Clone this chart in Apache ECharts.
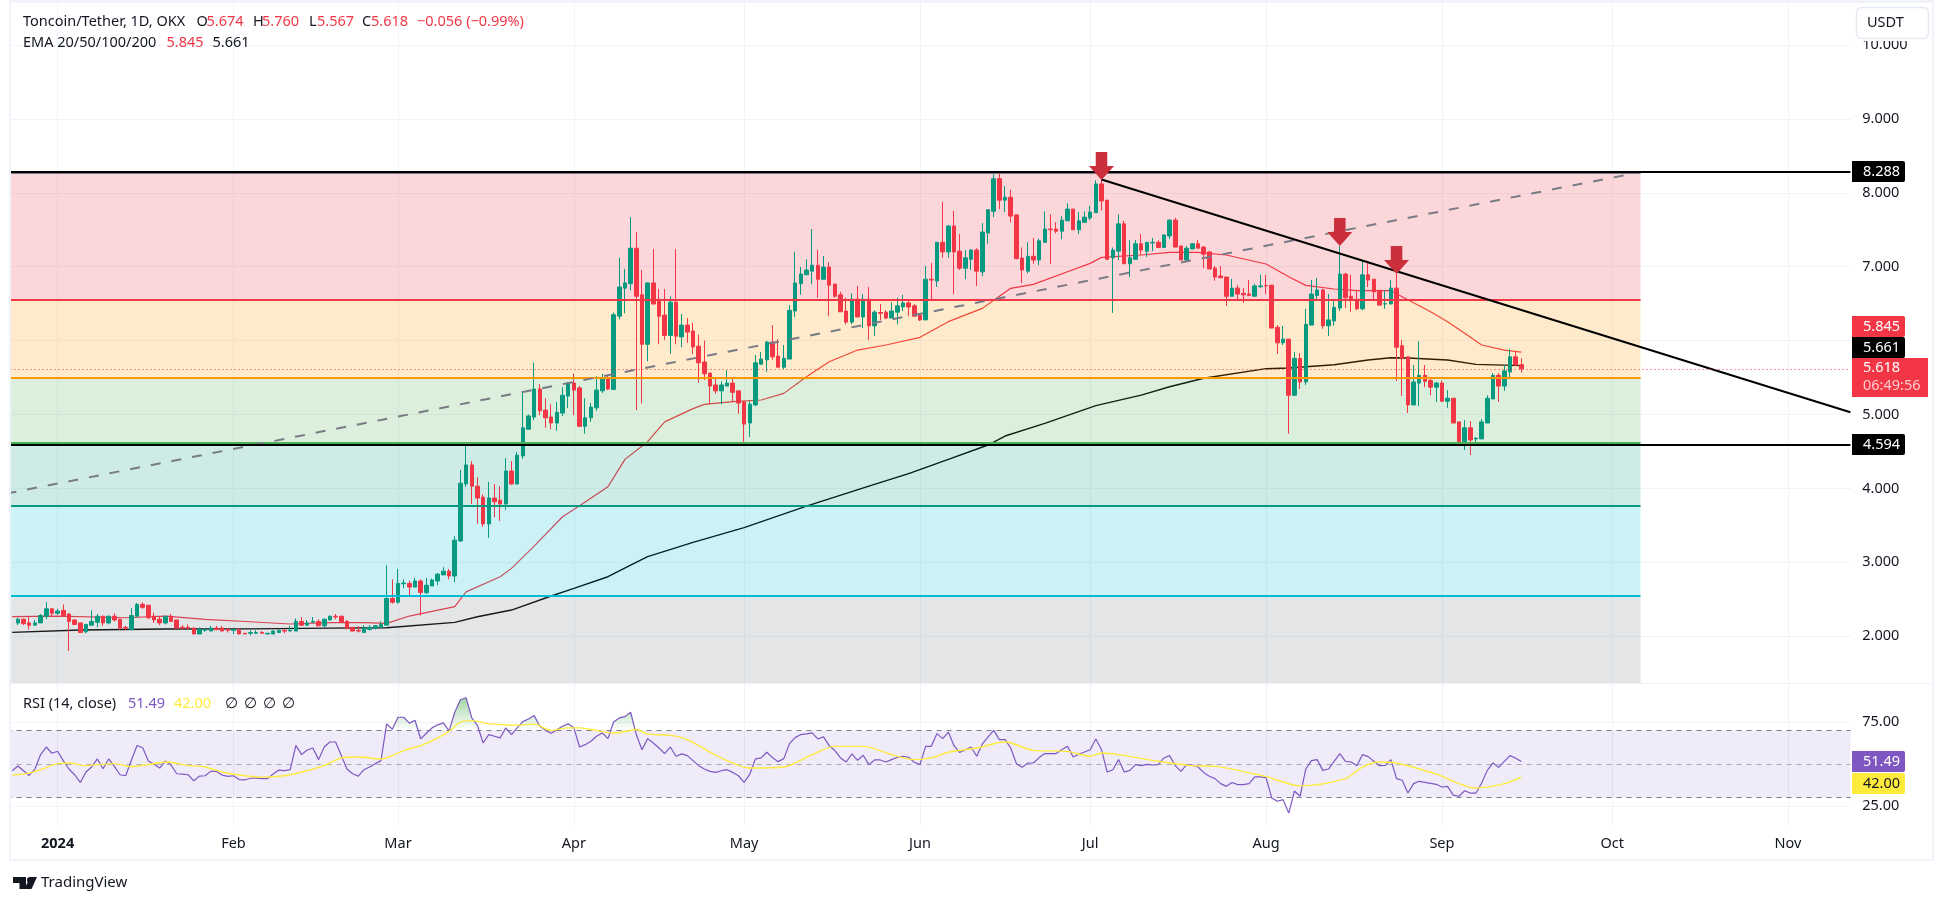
<!DOCTYPE html>
<html>
<head>
<meta charset="utf-8">
<title>Toncoin/Tether</title>
<style>
  html, body { margin: 0; padding: 0; background: #fff; }
  #chart { width: 1946px; height: 901px; }
</style>
<script src="https://cdn.jsdelivr.net/npm/echarts@6/dist/echarts.min.js"></script>
</head>
<body>
<div id="chart"></div>
<script>
// [open, close, low, high], one row per day, first row is 25 Dec 2023
const candles = [
  [2.18,2.23,2.15,2.25],[2.23,2.17,2.15,2.24],[2.18,2.15,2.09,2.26],[2.15,2.18,2.15,2.22],[2.18,2.28,2.18,2.30],
  [2.27,2.37,2.23,2.46],[2.37,2.31,2.27,2.38],[2.31,2.34,2.29,2.37],[2.35,2.28,2.28,2.43],[2.30,2.20,1.80,2.31],
  [2.22,2.16,2.16,2.23],[2.18,2.05,2.05,2.18],[2.06,2.16,2.04,2.16],[2.15,2.20,2.15,2.35],[2.19,2.27,2.12,2.30],
  [2.27,2.18,2.14,2.28],[2.18,2.27,2.16,2.28],[2.27,2.22,2.20,2.31],[2.23,2.11,2.09,2.23],[2.12,2.11,2.08,2.14],
  [2.09,2.28,2.08,2.38],[2.27,2.43,2.27,2.45],[2.43,2.39,2.37,2.46],[2.42,2.25,2.23,2.42],[2.27,2.22,2.18,2.32],
  [2.23,2.18,2.15,2.27],[2.18,2.27,2.16,2.27],[2.27,2.20,2.20,2.30],[2.22,2.11,2.11,2.22],[2.12,2.11,2.09,2.15],
  [2.12,2.11,2.09,2.16],[2.11,2.03,2.03,2.12],[2.03,2.09,2.03,2.12],[2.08,2.09,2.06,2.11],[2.07,2.11,2.07,2.14],
  [2.11,2.09,2.08,2.14],[2.11,2.07,2.07,2.14],[2.09,2.08,2.05,2.11],[2.08,2.09,2.03,2.09],[2.08,2.03,2.03,2.11],
  [2.04,2.03,2.03,2.04],[2.04,2.05,2.01,2.08],[2.04,2.05,2.03,2.08],[2.05,2.04,2.04,2.07],[2.03,2.04,2.03,2.04],
  [2.03,2.07,2.03,2.08],[2.05,2.08,2.05,2.09],[2.08,2.07,2.04,2.09],[2.07,2.08,2.07,2.14],[2.07,2.20,2.07,2.24],
  [2.20,2.15,2.14,2.26],[2.15,2.18,2.14,2.22],[2.19,2.20,2.18,2.26],[2.20,2.14,2.14,2.23],[2.14,2.23,2.12,2.24],
  [2.22,2.27,2.22,2.28],[2.27,2.26,2.23,2.30],[2.27,2.19,2.19,2.28],[2.20,2.11,2.09,2.22],[2.12,2.07,2.07,2.12],
  [2.08,2.07,2.05,2.14],[2.05,2.11,2.05,2.15],[2.09,2.12,2.08,2.15],[2.11,2.14,2.09,2.15],[2.12,2.16,2.12,2.20],
  [2.15,2.51,2.15,2.96],[2.51,2.46,2.44,2.77],[2.46,2.715,2.44,2.91],[2.71,2.72,2.65,2.77],[2.715,2.665,2.535,2.75],
  [2.665,2.747,2.665,2.79],[2.747,2.59,2.28,2.77],[2.59,2.69,2.57,2.79],[2.68,2.76,2.68,2.78],[2.747,2.84,2.69,2.855],
  [2.83,2.88,2.83,2.935],[2.88,2.815,2.77,2.91],[2.815,3.30,2.73,3.355],[3.29,4.07,3.275,4.25],[4.06,4.317,4.02,4.60],
  [4.317,4.03,3.79,4.37],[4.03,3.87,3.52,4.15],[3.88,3.52,3.48,3.92],[3.52,3.87,3.33,4.09],[3.87,3.82,3.61,4.06],
  [3.84,3.79,3.56,4.03],[3.79,4.235,3.71,4.41],[4.235,4.06,4.05,4.37],[4.06,4.45,4.05,4.49],[4.44,4.82,4.40,5.30],
  [4.80,4.98,4.80,5.00],[4.965,5.345,4.925,5.70],[5.345,5.05,4.99,5.41],[5.06,4.955,4.82,5.22],[4.965,4.885,4.80,5.14],
  [4.885,5.03,4.78,5.17],[5.02,5.26,4.98,5.37],[5.25,5.425,5.09,5.44],[5.425,5.33,4.99,5.55],[5.36,4.84,4.84,5.385],
  [4.84,4.955,4.74,5.22],[4.955,5.10,4.90,5.155],[5.09,5.33,5.05,5.52],[5.32,5.49,5.29,5.55],[5.49,5.345,5.33,5.52],
  [5.34,6.35,5.33,6.38],[6.33,6.725,6.29,7.12],[6.71,6.78,6.37,6.97],[6.77,7.25,6.68,7.67],[7.25,6.60,5.06,7.47],
  [6.62,5.95,5.15,6.955],[5.95,6.78,5.72,6.79],[6.78,6.495,6.495,7.24],[6.56,6.33,5.95,6.70],[6.345,6.07,6.01,6.70],
  [6.07,6.52,5.82,6.60],[6.52,6.06,5.95,7.24],[6.05,6.21,5.91,6.36],[6.21,6.115,5.97,6.305],[6.13,5.915,5.82,6.24],
  [5.925,5.70,5.43,6.08],[5.71,5.55,5.465,6.00],[5.56,5.385,5.14,5.56],[5.40,5.32,5.28,5.48],[5.32,5.40,5.14,5.45],
  [5.385,5.425,5.385,5.60],[5.425,5.30,5.17,5.49],[5.32,5.155,5.01,5.32],[5.17,4.87,4.63,5.18],[4.885,5.14,4.695,5.18],
  [5.13,5.70,5.115,5.805],[5.68,5.75,5.68,5.845],[5.74,5.98,5.575,5.995],[5.98,5.78,5.74,6.21],[5.79,5.64,5.64,6.02],
  [5.64,5.76,5.615,5.94],[5.75,6.41,5.75,6.48],[6.40,6.78,6.32,7.20],[6.77,6.90,6.62,6.995],[6.89,6.955,6.89,7.10],
  [6.94,7.02,6.765,7.51],[7.02,6.83,6.58,7.225],[6.83,6.995,6.83,7.145],[6.995,6.75,6.33,7.06],[6.765,6.60,6.58,6.765],
  [6.62,6.39,6.39,6.66],[6.40,6.25,6.22,6.58],[6.25,6.56,6.22,6.64],[6.56,6.32,6.32,6.74],[6.32,6.56,6.17,6.63],
  [6.56,6.20,6.01,6.725],[6.20,6.385,6.06,6.41],[6.38,6.37,6.28,6.495],[6.385,6.305,6.29,6.41],[6.305,6.40,6.305,6.52],
  [6.385,6.47,6.22,6.58],[6.455,6.51,6.40,6.62],[6.51,6.455,6.33,6.56],[6.47,6.33,6.33,6.495],[6.345,6.28,6.265,6.36],
  [6.28,6.83,6.28,7.01],[6.83,6.82,6.55,7.05],[6.805,7.33,6.725,7.33],[7.33,7.20,7.12,7.875],[7.20,7.55,7.12,7.565],
  [7.55,7.20,6.63,7.755],[7.21,6.98,6.955,7.44],[6.98,7.12,6.83,7.225],[7.10,7.225,6.955,7.24],[7.225,6.94,6.74,7.25],
  [6.93,7.47,6.87,7.59],[7.455,7.77,7.31,7.78],[7.75,8.19,7.67,8.25],[8.19,7.90,7.78,8.28],[7.90,7.94,7.74,8.09],
  [7.94,7.685,7.60,8.04],[7.70,7.11,7.10,7.71],[7.117,6.955,6.78,7.26],[6.94,7.14,6.91,7.33],[7.14,7.09,7.04,7.39],
  [7.09,7.35,7.02,7.38],[7.33,7.51,7.33,7.75],[7.51,7.50,7.04,7.71],[7.51,7.48,7.45,7.60],[7.48,7.63,7.37,7.685],
  [7.62,7.78,7.62,7.86],[7.78,7.50,7.50,7.78],[7.50,7.62,7.44,7.74],[7.60,7.67,7.59,7.75],[7.66,7.74,7.63,7.825],
  [7.73,8.12,7.73,8.17],[8.12,7.89,7.76,8.18],[7.90,7.10,7.10,7.90],[7.12,7.225,6.375,7.26],[7.21,7.58,7.09,7.71],
  [7.58,7.04,7.04,7.62],[7.04,7.12,6.86,7.36],[7.10,7.31,7.09,7.36],[7.31,7.225,7.16,7.44],[7.21,7.33,7.13,7.33],
  [7.32,7.33,7.21,7.39],[7.33,7.26,7.26,7.36],[7.26,7.43,7.26,7.43],[7.415,7.63,7.375,7.645],[7.63,7.265,7.265,7.66],
  [7.28,7.09,7.09,7.28],[7.09,7.25,7.09,7.28],[7.24,7.31,7.24,7.32],[7.31,7.25,7.25,7.36],[7.265,7.17,6.98,7.28],
  [7.20,6.97,6.97,7.21],[6.98,6.86,6.81,7.01],[6.875,6.85,6.85,7.01],[6.86,6.60,6.47,6.86],[6.60,6.71,6.60,6.835],
  [6.71,6.63,6.55,6.75],[6.64,6.62,6.51,6.71],[6.63,6.61,6.60,6.82],[6.60,6.74,6.60,6.77],[6.73,6.74,6.71,6.89],
  [6.745,6.74,6.63,6.89],[6.75,6.17,6.17,6.75],[6.18,5.97,5.82,6.21],[5.97,6.02,5.94,6.20],[6.02,5.26,4.74,6.02],
  [5.26,5.76,5.26,5.845],[5.76,5.44,5.345,5.83],[5.44,6.22,5.40,6.43],[6.21,6.63,6.21,6.82],[6.61,6.685,6.55,6.85],
  [6.685,6.20,6.16,6.70],[6.20,6.28,6.06,6.63],[6.265,6.45,6.20,6.535],[6.44,6.90,6.40,7.28],[6.90,6.58,6.44,6.915],
  [6.60,6.55,6.39,6.89],[6.56,6.43,6.41,6.68],[6.43,6.89,6.41,7.09],[6.89,6.82,6.725,7.08],[6.83,6.66,6.54,6.83],
  [6.68,6.48,6.48,6.68],[6.495,6.50,6.43,6.68],[6.495,6.71,6.495,6.82],[6.71,5.91,5.45,6.91],[5.93,5.76,5.25,6.01],
  [5.78,5.13,5.02,5.78],[5.13,5.44,5.13,5.67],[5.425,5.53,5.115,5.99],[5.53,5.45,5.37,5.67],[5.46,5.37,5.26,5.49],
  [5.37,5.425,5.17,5.44],[5.425,5.18,5.17,5.46],[5.18,5.22,5.09,5.33],[5.22,4.885,4.885,5.22],[4.90,4.63,4.57,4.90],
  [4.63,4.82,4.52,4.925],[4.82,4.655,4.45,4.91],[4.67,4.68,4.60,4.695],[4.67,4.90,4.67,4.94],[4.885,5.22,4.885,5.26],
  [5.21,5.53,5.21,5.56],[5.53,5.385,5.17,5.56],[5.385,5.59,5.32,5.67],[5.575,5.78,5.48,5.885],[5.78,5.67,5.655,5.845],
  [5.674,5.618,5.567,5.76]
]

// [days after 24 Dec 2023, value]
const ema50 = [
  [0,2.264],[8,2.273],[20,2.25],[27,2.273],[34,2.228],[42,2.196],[49,2.165],[56,2.183],[62,2.183],[66,2.174],
  [70,2.273],[78,2.40],[80,2.60],[86,2.805],[88,2.918],[92,3.22],[97,3.617],[100,3.766],[105,4.023],[108,4.393],
  [112,4.632],[115,4.90],[120,5.08],[122,5.137],[127,5.173],[132,5.196],[136,5.286],[140,5.511],[144,5.714],
  [149,5.872],[154,5.94],[160,6.044],[165,6.256],[171,6.436],[174,6.60],[176,6.707],[180,6.761],[186,6.932],
  [190,7.045],[192,7.126],[199,7.158],[204,7.194],[209,7.194],[214,7.158],[221,7.036],[225,6.865],[228,6.747],
  [233,6.698],[237,6.675],[243,6.675],[245,6.594],[250,6.391],[253,6.256],[256,6.098],[259,5.94],[263,5.872],[266,5.845]
]
const ema200 = [
  [0,2.052],[12,2.084],[27,2.097],[42,2.10],[56,2.11],[66,2.115],[78,2.187],[82,2.264],[88,2.354],[95,2.544],
  [99,2.647],[105,2.805],[109,2.963],[112,3.076],[120,3.27],[129,3.47],[140,3.76],[151,4.03],[158,4.20],[165,4.393],
  [172,4.587],[175,4.709],[182,4.88],[191,5.12],[199,5.263],[204,5.376],[210,5.49],[221,5.62],[225,5.63],
  [233,5.674],[239,5.737],[243,5.768],[246,5.764],[253,5.737],[258,5.678],[266,5.661]
]

// one value per day, first value is 24 Dec 2023
const rsi = [
  46,48.8,46,43.2,47,55.6,60.1,56.4,57.6,52,47,43.6,39,45.2,48.2,53,47.2,53,48.6,43.6,43,52.2,61,59.7,51.8,49.8,
  47.6,51.8,49.4,44.2,44,43.6,40,42.8,43,45.6,45.6,43.4,42.6,43,40.7,40.5,41.5,41.6,41.3,41.3,44,46.4,46,46.6,61.1,
  55.6,58.3,59.5,52.6,60.1,63.1,63.1,55,47,44.2,42.8,46.6,48.2,50.2,52,73.9,70.7,77.8,77.8,74.3,76,64.9,68.3,71.5,
  73.3,74.5,69.7,80.8,88.2,89.4,77.4,73,62.5,67.5,66.5,65.5,71.5,67.5,71.5,75.2,76.8,78.8,72.5,70,68.3,70.3,72.5,
  73.9,71.5,60.1,61.5,63.5,66.5,68.5,65.1,75,77.4,78.2,80.8,67.5,58.5,65.1,62.5,59.5,56.2,60.1,54.6,56,55,52,49,47,
  45.6,45,46,46.6,45,43,39,44,53,53.6,57,53.8,51.4,53.2,62.1,65.7,67.5,67.9,68.5,64.9,66.1,60.9,58,53.6,51.2,56,
  52.2,55.2,49.6,52.4,52.4,51.2,52.6,54,54.6,54,51,49.6,60.5,60.5,68.1,65.1,69,60.9,56.8,58.5,60.1,54.6,61.9,66.1,
  70,64.5,64.5,59.5,50.2,48,50.6,50.6,53.8,56.2,56.2,56.2,58.5,60.5,54.2,55.8,57.1,58.5,64.9,58.5,45.2,46.6,52.6,
  45.2,46.2,49.6,49,49.8,49.4,49.6,53.6,55,49,45.6,49.6,49.4,48.2,45,42.7,41.3,38.3,36.7,39,37.7,37.7,38.3,42.3,
  42.3,41.9,29.8,27.8,28.8,20.8,33.9,30.8,47,52,52.6,46.2,47,51.6,56.2,51.6,51.2,49,55.6,54.4,51.6,49,49.2,52.6,
  41.3,40.3,32.7,38.3,39.7,39.1,38.5,37.9,36.3,36.7,31.5,30.8,34.1,32.7,32.7,38.7,46.2,50.6,48,51.6,55,53.4,51.49
]
const rsiMa = [
  [0,43.4],[3,44.6],[5,46.6],[8,50.2],[10,50.6],[13,49],[15,49.6],[18,50.2],[21,48.4],[24,49.6],[27,51.2],[31,49.2],
  [34,48.2],[37,45.2],[41,43],[44,42.2],[48,43],[51,45.2],[55,49],[58,53.6],[61,54.2],[65,53],[67,55],[69,58],
  [72,60.9],[75,65.5],[77,69.5],[79,74.9],[81,75.8],[84,73.9],[86,73.5],[89,73.1],[92,73.7],[95,70],[98,71.5],
  [100,71.5],[103,70],[106,68.4],[108,69.3],[110,70.5],[112,67.9],[116,67],[119,64.5],[124,55.2],[127,50.6],
  [130,47.6],[136,48.2],[141,55.6],[145,60.5],[150,60.5],[155,55.6],[159,52.6],[162,53.6],[165,57],[170,59.5],
  [175,63.1],[180,58.1],[186,57.5],[190,54.6],[192,56.5],[195,55.6],[202,51.6],[208,49],[212,48.6],[221,42.5],
  [227,37],[235,41.3],[238,48.2],[241,51.2],[244,50.6],[251,44],[258,35.7],[263,38.3],[266,42]
]

const priceTicks = [2, 3, 4, 5, 6, 7, 8, 9, 10]
const rsiTicks = [25, 75]
const monthLabels = {
  '2024-01-01': '2024', '2024-02-01': 'Feb', '2024-03-01': 'Mar', '2024-04-01': 'Apr', '2024-05-01': 'May',
  '2024-06-01': 'Jun', '2024-07-01': 'Jul', '2024-08-01': 'Aug', '2024-09-01': 'Sep', '2024-10-01': 'Oct', '2024-11-01': 'Nov'
}

// fib zones: top, bottom, fill, colour of the line on top of the zone
const zoneTops = [8.27, 6.55, 5.494, 4.62, 3.762, 2.548]
const zoneBottoms = [6.55, 5.494, 4.62, 3.762, 2.548, 1.367]
const zoneFills = ['rgba(242,54,69,.2)', 'rgba(255,152,0,.2)', 'rgba(76,175,80,.2)', 'rgba(8,153,129,.2)', 'rgba(0,188,212,.2)', 'rgba(120,123,134,.2)']
const zoneLines = ['#787b86', '#f23645', '#ff9800', '#4caf50', '#089981', '#00bcd4']
const arrows = [[184, 8.173], [226, 7.28], [236, 6.90]]

const FONT = '"Noto Sans", sans-serif'
const TEXT = '#131722'
const BORDER = '#f0f3fa'

// categories run from 23 Dec 2023 so that the first band sits left of the frame
const categories = []
for (let i = 0; i < 326; i++) {
  categories.push(new Date(Date.UTC(2023, 11, 23 + i)).toISOString().slice(0, 10))
}
const LAST = categories.length - 1
const ZONE_END = 288
const shift = ([day, v]) => [day + 1, v]
const isMonth = (i, v) => v in monthLabels

const noLabel = { show: false }
const hline = (v, x0, x1) => [{ coord: [x0, v] }, { coord: [x1, v] }]

const text = (x, y, str, fill, extra) => ({
  type: 'text', z: 30, x, y,
  style: Object.assign({ text: str, fill, font: '14.5px ' + FONT, verticalAlign: 'middle' }, extra || {})
})
const box = (x, y, w, h, fill, extra) => ({
  type: 'rect', z: 29, shape: Object.assign({ x, y, width: w, height: h }, extra || {}), style: { fill }
})
const tag = (y, str, fill, color) => [
  box(1852, y, 53, 21, fill, { r: [0, 2, 2, 0] }),
  text(1863, y + 10.5, str, color || '#fff')
]

const chart = echarts.init(document.getElementById('chart'))
chart.setOption({
  animation: false,
  backgroundColor: '#fff',
  textStyle: { fontFamily: FONT },
  grid: [
    { left: 3.7, top: 3, width: 1849.56, height: 680 },
    { left: 3.7, top: 684, width: 1849.56, height: 142 }
  ],
  xAxis: [
    {
      type: 'category', gridIndex: 0, data: categories, boundaryGap: true,
      axisLine: { show: false }, axisTick: { show: false }, axisLabel: { show: false },
      splitLine: { show: true, interval: isMonth, alignWithLabel: true, lineStyle: { color: BORDER, width: 1 } }
    },
    {
      type: 'category', gridIndex: 1, data: categories, boundaryGap: true,
      axisLine: { show: false }, axisTick: { show: false },
      axisLabel: {
        interval: isMonth, margin: 10, fontSize: 14.5, color: TEXT, fontFamily: FONT,
        formatter: v => (monthLabels[v] === '2024' ? '{b|2024}' : monthLabels[v] || ''),
        rich: { b: { fontWeight: 'bold', fontSize: 14.5, color: TEXT, fontFamily: FONT } }
      },
      splitLine: { show: true, interval: isMonth, alignWithLabel: true, lineStyle: { color: BORDER, width: 1 } }
    }
  ],
  yAxis: [
    {
      type: 'value', gridIndex: 0, position: 'right', min: 1.367, max: 10.568, scale: true,
      axisLine: { show: false }, axisTick: { show: false }, splitLine: { show: false },
      axisLabel: { customValues: priceTicks, formatter: v => v.toFixed(3), margin: 9, fontSize: 14.5, color: TEXT, fontFamily: FONT }
    },
    {
      type: 'value', gridIndex: 1, position: 'right', min: 13.1, max: 97.6, scale: true,
      axisLine: { show: false }, axisTick: { show: false }, splitLine: { show: false },
      axisLabel: { customValues: rsiTicks, formatter: v => v.toFixed(2), margin: 9, fontSize: 14.5, color: TEXT, fontFamily: FONT }
    }
  ],
  series: [
    {
      name: 'grid', type: 'line', data: [], xAxisIndex: 0, yAxisIndex: 0, silent: true,
      markLine: {
        z: 0, silent: true, symbol: 'none', label: noLabel, animation: false,
        lineStyle: { color: BORDER, width: 1, type: 'solid' },
        data: priceTicks.map(v => ({ yAxis: v }))
      }
    },
    { name: 'EMA 50', type: 'line', z: 1, data: ema50.map(shift), showSymbol: false, lineStyle: { color: '#f23645', width: 1.2 }, silent: true },
    { name: 'EMA 200', type: 'line', z: 1, data: ema200.map(shift), showSymbol: false, lineStyle: { color: '#000', width: 1.4 }, silent: true },
    {
      name: 'zones', type: 'line', data: [], silent: true,
      markArea: {
        z: 2, silent: true, label: noLabel, animation: false,
        data: zoneTops.map((top, i) => [
          { coord: [0, top], itemStyle: { color: zoneFills[i] } },
          { coord: [ZONE_END, zoneBottoms[i]] }
        ])
      }
    },
    {
      name: 'Toncoin/Tether', type: 'candlestick', z: 3, barWidth: 4, silent: true,
      data: ['-', '-'].concat(candles),
      itemStyle: { color: '#089981', color0: '#f23645', borderColor: '#089981', borderColor0: '#f23645', borderWidth: 1 }
    },
    {
      name: 'levels', type: 'line', data: [], silent: true,
      markLine: {
        z: 4, silent: true, symbol: 'none', label: noLabel, animation: false,
        data: [
          ...zoneTops.map((v, i) => {
            const seg = hline(v, 0, ZONE_END)
            seg[0].lineStyle = { color: zoneLines[i], width: 2, type: 'solid' }
            return seg
          }),
          // dashed rising trend line
          [{ coord: [0, 3.93], lineStyle: { color: '#787b86', width: 2, type: [10, 11] } }, { coord: [ZONE_END, 8.28] }],
          // falling trend line from the July top
          [{ coord: [193, 8.18], lineStyle: { color: '#000', width: 2, type: 'solid' } }, { coord: [LAST, 5.03] }],
          [{ coord: [0, 8.288], lineStyle: { color: '#000', width: 2, type: 'solid' } }, { coord: [LAST, 8.288] }],
          [{ coord: [0, 4.594], lineStyle: { color: '#000', width: 2, type: 'solid' } }, { coord: [LAST, 4.594] }],
          [{ coord: [0, 5.618], lineStyle: { color: '#f23645', width: 1, type: [1, 3] } }, { coord: [LAST, 5.618] }]
        ]
      }
    },
    {
      name: 'arrows', type: 'scatter', z: 5, silent: true,
      data: arrows.map(([d, v]) => [d + 9, v]),
      symbol: 'path://M7 0H19V14H26L13 28L0 14H7Z',
      symbolSize: [25, 28], symbolOffset: [0, '-50%'],
      itemStyle: { color: '#cc2f3c', opacity: 1 }
    },
    {
      name: 'rsi grid', type: 'line', data: [], xAxisIndex: 1, yAxisIndex: 1, silent: true,
      markLine: {
        z: 0, silent: true, symbol: 'none', label: noLabel, animation: false,
        lineStyle: { color: BORDER, width: 1, type: 'solid' },
        data: rsiTicks.map(v => ({ yAxis: v }))
      },
      markArea: {
        z: 1, silent: true, label: noLabel, animation: false,
        itemStyle: { color: 'rgba(126,87,194,.12)' },
        data: [[{ coord: [0, 70] }, { coord: [LAST, 30] }]]
      }
    },
    {
      name: 'rsi levels', type: 'line', data: [], xAxisIndex: 1, yAxisIndex: 1, silent: true,
      markLine: {
        z: 2, silent: true, symbol: 'none', label: noLabel, animation: false,
        data: [
          [{ coord: [0, 70], lineStyle: { color: '#787b86', width: 1, type: [5, 5] } }, { coord: [LAST, 70] }],
          [{ coord: [0, 50], lineStyle: { color: 'rgba(120,123,134,.6)', width: 1, type: [5, 5] } }, { coord: [LAST, 50] }],
          [{ coord: [0, 30], lineStyle: { color: '#787b86', width: 1, type: [5, 5] } }, { coord: [LAST, 30] }]
        ]
      }
    },
    {
      name: 'overbought fill', type: 'line', z: 3, xAxisIndex: 1, yAxisIndex: 1, silent: true,
      data: rsi.map((v, i) => [i + 1, Math.max(v, 70)]),
      showSymbol: false, lineStyle: { width: 0 },
      areaStyle: {
        origin: 70,
        color: new echarts.graphic.LinearGradient(0, 0, 0, 1, [
          { offset: 0, color: 'rgba(76,175,80,.75)' },
          { offset: 1, color: 'rgba(76,175,80,0)' }
        ])
      }
    },
    {
      name: 'RSI', type: 'line', z: 4, xAxisIndex: 1, yAxisIndex: 1, silent: true,
      data: rsi.map((v, i) => [i + 1, v]), showSymbol: false, lineStyle: { color: '#7e57c2', width: 1.2 }
    },
    {
      name: 'RSI MA', type: 'line', z: 5, xAxisIndex: 1, yAxisIndex: 1, silent: true,
      data: rsiMa.map(shift), showSymbol: false, smooth: 0.3, lineStyle: { color: '#ffeb3b', width: 1.4 }
    }
  ],
  graphic: [
    // frame
    box(0, 0, 10, 861, '#fff'),
    box(9, 1, 2, 860, BORDER),
    box(9, 0, 1925, 3, BORDER),
    box(1851, 3, 3, 823, '#fff'),
    box(1851, 3, 82, 38, '#fff'),
    box(9, 683, 1925, 1, BORDER),
    box(9, 859, 1925, 2, BORDER),
    box(1932, 0, 2, 861, BORDER),
    {
      type: 'rect', z: 29, shape: { x: 1856.5, y: 7.5, width: 72, height: 31, r: 5 },
      style: { fill: '#fff', stroke: '#e6e9f2', lineWidth: 1.5 }
    },
    text(1867, 23, 'USDT', TEXT),
    // legend
    text(23, 22, 'Toncoin/Tether, 1D, OKX', TEXT),
    text(196.5, 22, 'O', TEXT), text(206.5, 22, '5.674', '#f23645'),
    text(253, 22, 'H', TEXT), text(262, 22, '5.760', '#f23645'),
    text(309, 22, 'L', TEXT), text(317, 22, '5.567', '#f23645'),
    text(362, 22, 'C', TEXT), text(371, 22, '5.618', '#f23645'),
    text(417, 22, '\u22120.056 (\u22120.99%)', '#f23645'),
    text(23, 43, 'EMA 20/50/100/200', TEXT),
    text(166.5, 43, '5.845', '#f23645'),
    text(212.5, 43, '5.661', TEXT),
    text(23, 704, 'RSI (14, close)', TEXT),
    text(128, 704, '51.49', '#7e57c2'),
    text(174, 704, '42.00', '#ffeb3b'),
    text(225, 704, '\u2205', TEXT), text(244, 704, '\u2205', TEXT), text(263, 704, '\u2205', TEXT), text(282, 704, '\u2205', TEXT),
    // price tags
    ...tag(161, '8.288', '#000'),
    ...tag(316, '5.845', '#f23645'),
    ...tag(337, '5.661', '#000'),
    box(1852, 358, 76, 39, '#f23645'),
    text(1863, 368, '5.618', '#fff'),
    text(1863, 386, '06:49:56', 'rgba(255,255,255,.75)'),
    ...tag(434, '4.594', '#000'),
    ...tag(751, '51.49', '#7e57c2'),
    ...tag(773, '42.00', '#ffeb3b', TEXT),
    // TradingView mark
    { type: 'polygon', z: 30, shape: { points: [[13, 877], [26, 877], [26, 889], [19.5, 889], [19.5, 883], [13, 883]] }, style: { fill: TEXT } },
    { type: 'circle', z: 30, shape: { cx: 30, cy: 880, r: 3 }, style: { fill: TEXT } },
    { type: 'polygon', z: 30, shape: { points: [[37, 877], [31.5, 889], [24.5, 889], [30, 877]] }, style: { fill: TEXT } },
    text(41, 883, 'TradingView', TEXT, { font: '15px ' + FONT })
  ]
})
</script>
</body>
</html>
